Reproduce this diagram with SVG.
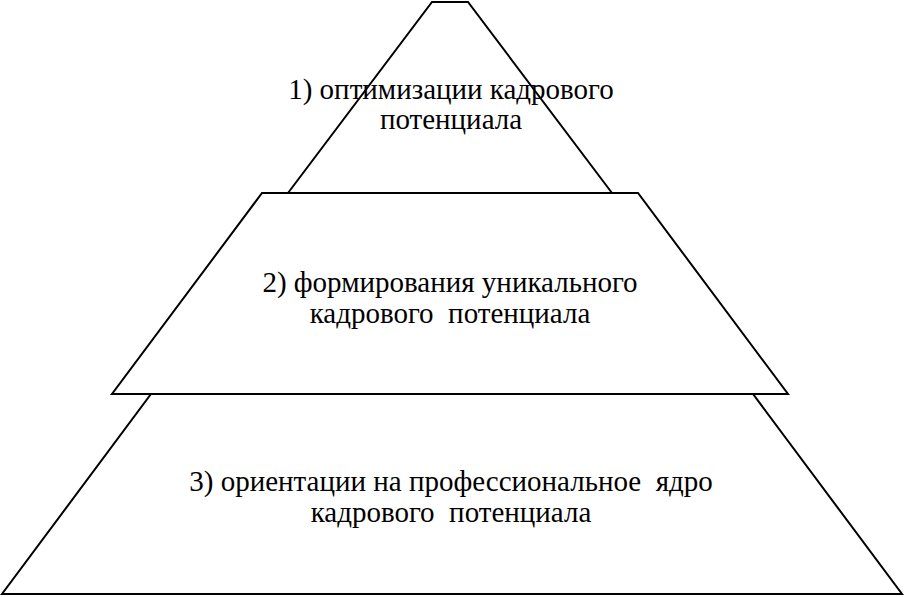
<svg xmlns="http://www.w3.org/2000/svg" width="905" height="597" viewBox="0 0 905 597">
<style>
.s{fill:none;stroke:#000;stroke-width:2;stroke-linejoin:miter}
.t{font-family:'Liberation Serif','Times New Roman',serif;font-size:29px;fill:#000;text-anchor:middle}
</style>
<rect width="905" height="597" fill="#fff"/>
<g id="level3">
<polygon class="s" points="151,394 753,394 902,594 2,594"/>
<text class="t" x="451" y="491" xml:space="preserve">3) ориентации на профессиональное  ядро</text>
<text class="t" x="451" y="522" xml:space="preserve">кадрового  потенциала</text>
</g>
<g id="level2">
<polygon class="s" points="262,193 638,193 788,394 112,394" fill="#fff"/>
<text class="t" x="450" y="292">2) формирования уникального</text>
<text class="t" x="450" y="323" xml:space="preserve">кадрового  потенциала</text>
</g>
<g id="level1">
<polyline class="s" points="288,193 432,2 468,2 612,193"/>
<text class="t" x="451" y="99">1) оптимизации кадрового</text>
<text class="t" x="451" y="129">потенциала</text>
</g>
<g id="connectors"/>
</svg>
